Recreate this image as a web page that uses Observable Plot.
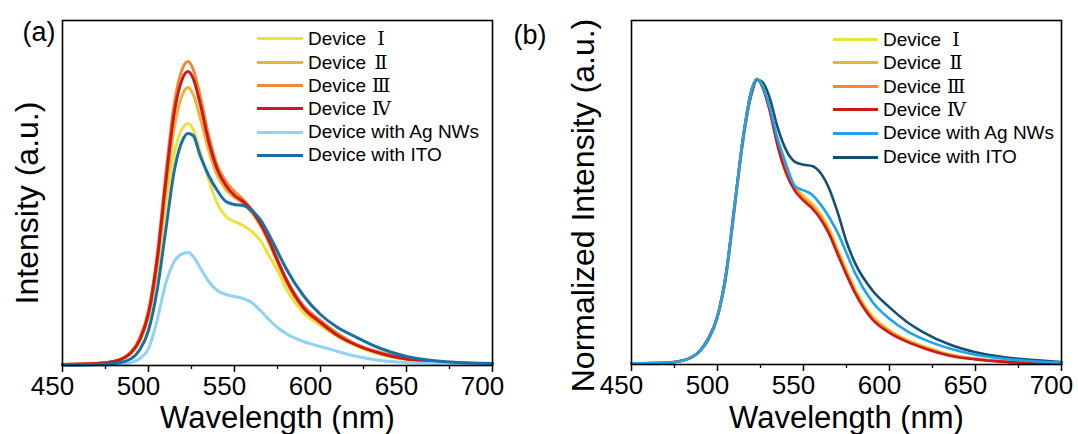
<!DOCTYPE html>
<html><head><meta charset="utf-8">
<script src="https://cdn.jsdelivr.net/npm/d3@7"></script>
<script src="https://cdn.jsdelivr.net/npm/@observablehq/plot@0.6"></script>
<style>
body{margin:0;background:#fff;}
#wrap{position:relative;width:1078px;height:434px;font-family:"Liberation Sans",Arial,sans-serif;overflow:hidden;background:#fff;}
.panel{position:absolute;top:0;}
.row{position:absolute;height:22px;line-height:22px;white-space:nowrap;font-size:19px;color:#000;}
.sw{position:absolute;height:3px;}
.num{font-family:"DejaVu Serif","Liberation Serif",serif;display:inline-block;text-align:center;width:18px;margin-left:6px;font-size:19px;}
</style></head><body><div id="wrap"></div>
<script>
// ---------- data ----------
const wavelength = [450, 470, 480, 490, 495, 500, 505, 510, 515, 520, 523, 526, 530, 535, 540, 545, 550, 555, 560, 565, 570, 575, 580, 590, 600, 610, 620, 635, 650, 665, 680, 700];
const seriesNames = ["Device Ⅰ", "Device Ⅱ", "Device Ⅲ", "Device Ⅳ", "Device with Ag NWs", "Device with ITO"];
const xTicks = [450, 500, 550, 600, 650, 700];
const xMinorTicks = [475, 525, 575, 625, 675];

// panel (a): intensity (a.u.)
const aDevI   = [1, 2, 4, 12, 24, 48, 95, 160, 212, 238, 242, 236, 214, 186, 162, 149, 144, 140, 134, 125, 110, 95, 77, 53, 40, 29, 20, 11, 6, 3.5, 2, 1.5];
const aDevII  = [1, 2, 4, 13, 25, 50, 100, 172, 238, 272, 278, 271, 248, 215, 190, 176, 168, 162, 153, 140, 123, 103, 84, 57, 42, 30, 21, 12, 6.5, 3.5, 2, 1.5];
const aDevIII = [1, 2, 4, 14, 28, 55, 110, 190, 262, 298, 304, 296, 270, 230, 200, 184, 174, 166, 156, 143, 126, 106, 87, 60, 45, 32, 22, 13, 7, 4, 2.5, 1.5];
const aDevIV  = [1, 2, 4, 13, 26, 52, 105, 183, 253, 288, 294, 287, 262, 224, 196, 180, 170, 164, 155, 142, 125, 105, 86, 58, 43, 30, 21, 12, 6.5, 3.5, 2, 1.5];
const aAgNW   = [0.3, 0.5, 1, 3, 7, 17, 45, 82, 104, 112, 113, 109, 98, 84, 75, 71, 69, 67, 63, 55, 46, 38, 32, 24, 19, 14, 9.5, 5, 3, 2, 1.5, 1];
const aITO    = [0.5, 1, 2, 7, 16, 35, 75, 135, 195, 226, 232, 230, 210, 190, 175, 164, 161, 160, 155, 146, 131, 114, 97, 70, 51, 38, 29, 17, 9, 5, 3, 2];

// panel (b): normalized intensity
const bDevI   = [0.004, 0.006, 0.014, 0.05, 0.095, 0.17, 0.32, 0.56, 0.80, 0.965, 1.0, 0.978, 0.905, 0.78, 0.685, 0.625, 0.592, 0.565, 0.528, 0.475, 0.402, 0.332, 0.265, 0.172, 0.121, 0.088, 0.064, 0.036, 0.021, 0.012, 0.008, 0.004];
const bDevII  = [0.004, 0.006, 0.014, 0.05, 0.095, 0.17, 0.32, 0.56, 0.80, 0.965, 1.0, 0.976, 0.902, 0.775, 0.68, 0.62, 0.586, 0.559, 0.521, 0.468, 0.396, 0.326, 0.26, 0.167, 0.118, 0.085, 0.062, 0.034, 0.02, 0.011, 0.007, 0.004];
const bDevIII = [0.004, 0.006, 0.014, 0.05, 0.095, 0.17, 0.32, 0.56, 0.80, 0.965, 1.0, 0.975, 0.90, 0.77, 0.675, 0.615, 0.58, 0.553, 0.515, 0.462, 0.39, 0.32, 0.255, 0.162, 0.115, 0.083, 0.06, 0.033, 0.019, 0.011, 0.007, 0.004];
const bDevIV  = [0.004, 0.006, 0.014, 0.05, 0.095, 0.17, 0.32, 0.56, 0.80, 0.965, 1.0, 0.974, 0.898, 0.765, 0.668, 0.608, 0.574, 0.547, 0.509, 0.456, 0.384, 0.314, 0.25, 0.158, 0.111, 0.08, 0.057, 0.031, 0.018, 0.01, 0.006, 0.003];
const bAgNW   = [0.004, 0.006, 0.014, 0.05, 0.095, 0.17, 0.32, 0.56, 0.80, 0.965, 1.0, 0.978, 0.91, 0.79, 0.70, 0.625, 0.61, 0.595, 0.56, 0.515, 0.46, 0.39, 0.32, 0.22, 0.16, 0.118, 0.088, 0.056, 0.034, 0.021, 0.013, 0.006];
const bITO    = [0.004, 0.006, 0.014, 0.048, 0.09, 0.165, 0.31, 0.55, 0.79, 0.952, 0.997, 0.99, 0.94, 0.83, 0.75, 0.71, 0.70, 0.695, 0.67, 0.615, 0.53, 0.43, 0.355, 0.26, 0.2, 0.15, 0.112, 0.07, 0.043, 0.027, 0.017, 0.009];

const colorsA = ["#ebe23c", "#f0b13a", "#f08838", "#cc1a1a", "#8fd2f5", "#1870a8"];
const colorsB = ["#ebe23c", "#f0b13a", "#f08838", "#cc1a1a", "#1ea4ee", "#17506f"];

// ---------- build ----------
const seriesA = [aDevI, aDevII, aDevIII, aDevIV, aAgNW, aITO];
const seriesB = [bDevI, bDevII, bDevIII, bDevIV, bAgNW, bITO];
function tidy(arrays, order) {
  const rows = [];
  for (const k of order) arrays[k].forEach((v, i) => rows.push({wl: wavelength[i], v, s: seriesNames[k]}));
  return rows;
}
const rowsA = tidy(seriesA, [0, 1, 2, 3, 4, 5]);
const rowsB = tidy(seriesB, [5, 0, 1, 2, 3, 4]);

const FONT = '"Liberation Sans", Arial, sans-serif';

function panel({rows, colors, yMax, width, marginLeft, marginRight, marginBottom, yLabel, yDx, yDy, sw, tag, tagDx, tagDy, titleDy}) {
  return Plot.plot({
    width, height: 434, marginLeft, marginRight, marginTop: 20, marginBottom,
    style: {fontFamily: FONT, color: "black", background: "transparent", overflow: "visible"},
    x: {domain: [450, 700], label: null},
    y: {domain: [0, yMax], axis: null, label: null},
    color: {domain: seriesNames, range: colors},
    marks: [
      Plot.line(rows, {x: "wl", y: "v", z: "s", stroke: "s", strokeWidth: sw, curve: "monotone-x"}),
      Plot.frame({stroke: "black", strokeWidth: 1.6}),
      Plot.axisX(xTicks, {tickSize: 7, tickFormat: () => "", label: null, strokeWidth: 1.5}),
      Plot.axisX(xMinorTicks, {tickSize: 4, tickFormat: () => "", label: null, strokeWidth: 1.3}),
      Plot.text(xTicks, {x: d => d, frameAnchor: "bottom", textAnchor: "middle", lineAnchor: "top", dy: 11, dx: -10, fontSize: 26, fill: "black"}),
      Plot.text(["Wavelength (nm)"], {frameAnchor: "bottom", textAnchor: "middle", lineAnchor: "bottom", dy: titleDy, fontSize: 31, fill: "black"}),
      Plot.text([yLabel], {frameAnchor: "left", textAnchor: "middle", rotate: -90, lineAnchor: "middle", dx: yDx, dy: yDy, fontSize: 32, fill: "black"}),
      Plot.text([tag], {frameAnchor: "top-left", textAnchor: "start", lineAnchor: "bottom", dx: tagDx, dy: tagDy, fontSize: 27, fill: "black"})
    ]
  });
}

const wrap = document.getElementById("wrap");
const pa = panel({rows: rowsA, colors: colorsA, yMax: 345, width: 500, marginLeft: 62, marginRight: 8, marginBottom: 69,
  yLabel: "Intensity (a.u.)", yDx: -35, yDy: 10, sw: 3, tag: "(a)", tagDx: -40, tagDy: 20, titleDy: 62});
pa.classList.add("panel"); pa.style.left = "0px";
wrap.appendChild(pa);
const pb = panel({rows: rowsB, colors: colorsB, yMax: 344 / 285.5, width: 578, marginLeft: 131, marginRight: 17, marginBottom: 70,
  yLabel: "Normalized Intensity (a.u.)", yDx: -48, yDy: 13, sw: 2.6, tag: "(b)", tagDx: -118, tagDy: 23, titleDy: 63});
pb.classList.add("panel"); pb.style.left = "500px";
wrap.appendChild(pb);

// ---------- legends ----------
function legend(colors, swX0, swX1, textX, rowY) {
  seriesNames.forEach((name, i) => {
    const sw = document.createElement("div");
    sw.className = "sw";
    sw.style.left = swX0 + "px"; sw.style.width = (swX1 - swX0) + "px";
    sw.style.top = (rowY[i] - 1.5) + "px"; sw.style.background = colors[i];
    wrap.appendChild(sw);
    const row = document.createElement("div");
    row.className = "row";
    row.style.left = textX + "px"; row.style.top = (rowY[i] - 11) + "px";
    const m = name.match(/^Device ([ⅠⅡⅢⅣ])$/);
    if (m) {
      row.appendChild(document.createTextNode("Device"));
      const n = document.createElement("span"); n.className = "num"; n.textContent = m[1];
      row.appendChild(n);
    } else row.textContent = name;
    wrap.appendChild(row);
  });
}
legend(colorsA, 257, 303, 308, [38, 62, 85, 108, 132, 155]);
legend(colorsB, 833, 878, 883, [39, 62, 86, 109, 133, 157]);
</script></body></html>
